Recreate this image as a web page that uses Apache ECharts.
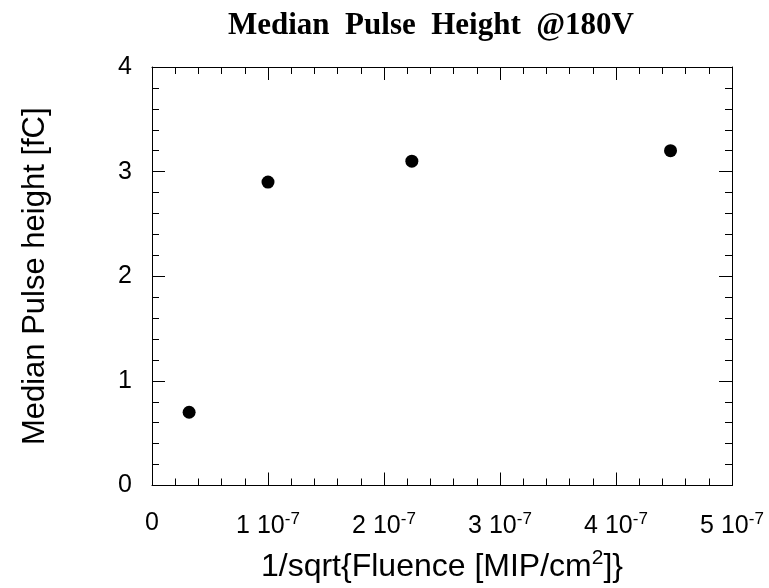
<!DOCTYPE html>
<html>
<head>
<meta charset="utf-8">
<script src="https://cdn.jsdelivr.net/npm/echarts@6/dist/echarts.min.js"></script>
<style>html,body{margin:0;padding:0;background:#fff}#c{width:769px;height:588px}</style>
</head>
<body>
<div id="c"></div>
<script>
const xValues = [0.32e-7, 1.0e-7, 2.24e-7, 4.47e-7];
const yValues = [0.70, 2.90, 3.10, 3.20];
const xTicks = [0, 1e-7, 2e-7, 3e-7, 4e-7, 5e-7];
const yTicks = [0, 1, 2, 3, 4];
const titleText = 'Median  Pulse  Height  @180V';
const xName = '1/sqrt{Fluence [MIP/cm{s|2}]}';
const yName = 'Median Pulse height [fC]';

const chart = echarts.init(document.getElementById('c'), null, {renderer: 'canvas'});
const font = 'Liberation Sans, Arial, sans-serif';
const axisCol = '#000';
const tickCommon = {show: true, inside: true, length: 13, lineStyle: {color: axisCol, width: 1}};
const minorCommon = {show: true, splitNumber: 5, length: 7, lineStyle: {color: axisCol, width: 1}};

function xFmt(v) {
  const n = Math.round(v / 1e-7);
  if (n === 0) return '{a|0}';
  return '{a|' + n + ' 10}{s|-7}';
}

chart.setOption({
  animation: false,
  backgroundColor: '#fff',
  title: {
    text: titleText, left: 426, top: 5, textAlign: 'center',
    textStyle: {fontFamily: 'Liberation Serif, Times New Roman, serif', fontWeight: 'bold', fontSize: 31, color: '#000'}
  },
  grid: {left: 152, right: 37, top: 67, bottom: 101, containLabel: false},
  xAxis: [{
    type: 'value', min: 0, max: 5e-7, interval: 1e-7, position: 'bottom',
    axisLine: {show: true, onZero: false, lineStyle: {color: axisCol, width: 1}},
    axisTick: tickCommon, minorTick: minorCommon, splitLine: {show: false},
    axisLabel: {
      margin: 25, formatter: xFmt,
      rich: {
        a: {fontFamily: font, fontSize: 25, color: '#000'},
        s: {fontFamily: font, fontSize: 17, color: '#000', padding: [0, 0, 14, 0]}
      }
    },
    name: xName, nameLocation: 'middle', nameGap: 62,
    nameTextStyle: {
      fontFamily: font, fontSize: 32, color: '#000',
      rich: {s: {fontFamily: font, fontSize: 21, color: '#000', padding: [0, 0, 18, 0]}}
    }
  }, {
    type: 'value', min: 0, max: 5e-7, interval: 1e-7, position: 'top',
    axisLine: {show: true, onZero: false, lineStyle: {color: axisCol, width: 1}},
    axisTick: tickCommon, minorTick: minorCommon, splitLine: {show: false},
    axisLabel: {show: false}
  }],
  yAxis: [{
    type: 'value', min: 0, max: 4, interval: 1, position: 'left',
    axisLine: {show: true, onZero: false, lineStyle: {color: axisCol, width: 1}},
    axisTick: tickCommon, minorTick: minorCommon, splitLine: {show: false},
    axisLabel: {margin: 20, fontFamily: font, fontSize: 25, color: '#000'},
    name: yName, nameLocation: 'middle', nameGap: 101, nameRotate: 90,
    nameTextStyle: {fontFamily: font, fontSize: 31, color: '#000'}
  }, {
    type: 'value', min: 0, max: 4, interval: 1, position: 'right',
    axisLine: {show: true, onZero: false, lineStyle: {color: axisCol, width: 1}},
    axisTick: tickCommon, minorTick: minorCommon, splitLine: {show: false},
    axisLabel: {show: false}
  }],
  series: [{
    type: 'scatter', xAxisIndex: 0, yAxisIndex: 0,
    data: xValues.map((x, i) => [x, yValues[i]]),
    symbol: 'circle', symbolSize: 13,
    itemStyle: {color: '#000', opacity: 1}
  }]
});
</script>
</body>
</html>
